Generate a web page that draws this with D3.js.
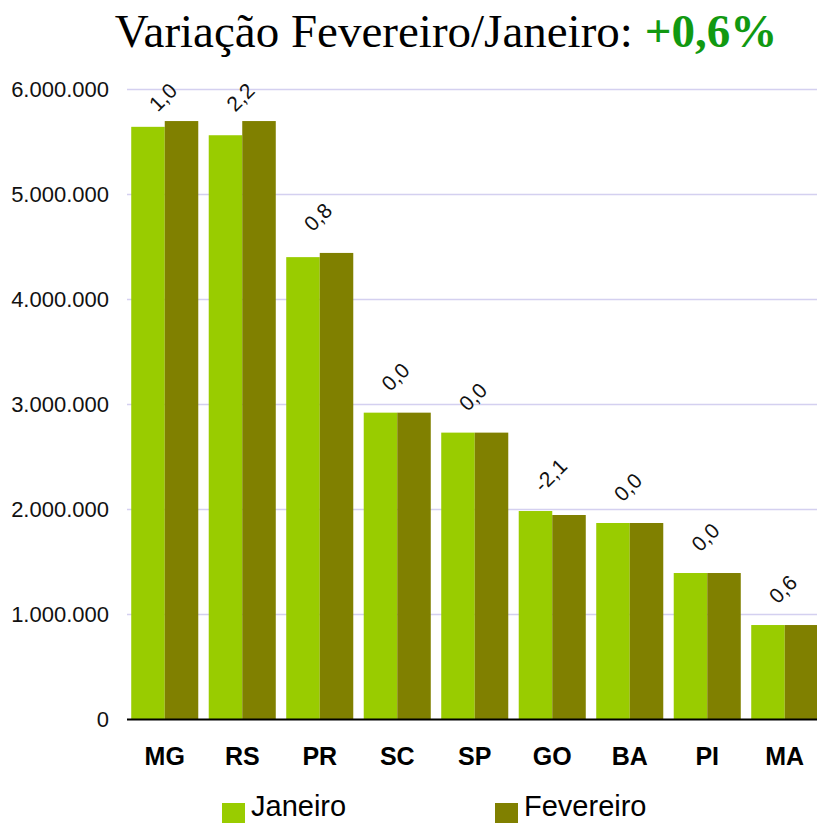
<!DOCTYPE html>
<html>
<head>
<meta charset="utf-8">
<script src="https://cdn.jsdelivr.net/npm/d3@7"></script>
<style>
    body {margin: 0; background: #fff;}
    svg {display: block;}
    text {font-family: "Liberation Sans", Arial, sans-serif;}
</style>
</head>
<body>
<svg id="chart" width="817" height="823"></svg>
<script>
// values
const states = ["MG", "RS", "PR", "SC", "SP", "GO", "BA", "PI", "MA"]
const janeiro = [5640000, 5560000, 4400000, 2920000, 2730000, 1984000, 1870000, 1394000, 899000]
const fevereiro = [5695000, 5695000, 4440000, 2920000, 2730000, 1946000, 1870000, 1394000, 899000]
const variation = ["1,0", "2,2", "0,8", "0,0", "0,0", "-2,1", "0,0", "0,0", "0,6"]
const yTicks = [0, 1000000, 2000000, 3000000, 4000000, 5000000, 6000000]
const seriesNames = ["Janeiro", "Fevereiro"]
const colors = ["#99cc00", "#808000"]
const titleText = "Variação Fevereiro/Janeiro: "
const titleValue = "+0,6%"

const svg = d3.select("#chart")
const plot = {left: 126, right: 823.5, top: 89, bottom: 719.5}

const x = d3.scaleBand()
    .domain(states)
    .range([plot.left, plot.right])
    .paddingInner(0.135)
    .paddingOuter(0.0675)

const xs = d3.scaleBand()
    .domain(seriesNames)
    .range([0, x.bandwidth()])

const y = d3.scaleLinear()
    .domain([0, 6000000])
    .range([plot.bottom, plot.top])

const fmt = v => d3.format(",")(v).replace(/,/g, ".")

// gridlines
svg.append("g")
    .selectAll("line")
    .data(yTicks.filter(t => t > 0))
    .enter()
    .append("line")
    .attr("x1", 127)
    .attr("x2", 817)
    .attr("y1", d => Math.round(y(d)) + 0.5)
    .attr("y2", d => Math.round(y(d)) + 0.5)
    .attr("stroke", "#d4d0f0")
    .attr("stroke-width", 1.5)

// y tick labels
svg.append("g")
    .selectAll("text")
    .data(yTicks)
    .enter()
    .append("text")
    .attr("x", 109)
    .attr("y", d => y(d))
    .attr("dy", "0.36em")
    .attr("text-anchor", "end")
    .style("font-size", "22px")
    .attr("fill", "#111")
    .text(d => fmt(d))

// bars
const rows = states.map((s, i) => ({state: s, values: [janeiro[i], fevereiro[i]], label: variation[i]}))

const groups = svg.append("g")
    .selectAll("g")
    .data(rows)
    .enter()
    .append("g")
    .attr("transform", d => "translate(" + x(d.state) + ",0)")

groups.selectAll("rect")
    .data(d => d.values.map((v, j) => ({name: seriesNames[j], value: v, color: colors[j]})))
    .enter()
    .append("rect")
    .attr("x", d => xs(d.name))
    .attr("y", d => y(d.value))
    .attr("width", xs.bandwidth())
    .attr("height", d => y(0) - y(d.value))
    .attr("fill", d => d.color)

// variation labels, rotated
groups.append("text")
    .attr("transform", d => {
        const cy = Math.max(97, y(d3.max(d.values)) - 36)
        return "translate(" + (x.bandwidth() / 2 - 2) + "," + cy + ") rotate(-45)"
    })
    .attr("text-anchor", "middle")
    .attr("dy", "0.36em")
    .style("font-size", "21px")
    .attr("fill", "#111")
    .text(d => d.label)

// x axis line
svg.append("line")
    .attr("x1", 127)
    .attr("x2", 817)
    .attr("y1", y(0))
    .attr("y2", y(0))
    .attr("stroke", "#000")
    .attr("stroke-width", 2)

// category labels
svg.append("g")
    .selectAll("text")
    .data(states)
    .enter()
    .append("text")
    .attr("x", d => x(d) + x.bandwidth() / 2)
    .attr("y", 765)
    .attr("text-anchor", "middle")
    .style("font-size", "25px")
    .style("font-weight", "bold")
    .attr("fill", "#000")
    .text(d => d)

// title
const title = svg.append("text")
    .attr("x", 446)
    .attr("y", 47)
    .attr("text-anchor", "middle")
    .style("font-family", "'Liberation Serif', 'Times New Roman', serif")
    .style("font-size", "47px")
title.append("tspan").attr("fill", "#000").text(titleText)
title.append("tspan").attr("fill", "#119911").style("font-weight", "bold").text(titleValue)

// legend
const legendX = [222, 495]
const legend = svg.append("g")
    .selectAll("g")
    .data(seriesNames)
    .enter()
    .append("g")
    .attr("transform", (d, i) => "translate(" + legendX[i] + ",0)")

legend.append("rect")
    .attr("x", 0)
    .attr("y", 803)
    .attr("width", 23)
    .attr("height", 23)
    .attr("fill", (d, i) => colors[i])

legend.append("text")
    .attr("x", 29)
    .attr("y", 816)
    .style("font-size", "29px")
    .attr("fill", "#000")
    .text(d => d)
</script>
</body>
</html>
